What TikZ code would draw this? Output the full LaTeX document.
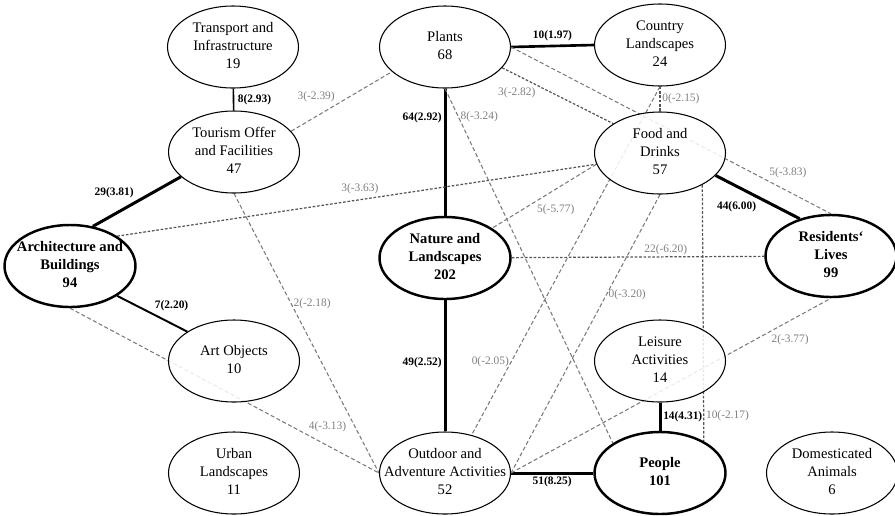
\documentclass[tikz,border=0pt]{standalone}
\usepackage{fontspec}
\setmainfont{Liberation Serif}
\usetikzlibrary{shapes.geometric,backgrounds}
\definecolor{edgegray}{HTML}{7A7A7A}
\definecolor{densegray}{HTML}{555555}
\definecolor{labgray}{HTML}{808080}
\newcommand{\fsz}{\fontsize{8.3}{10}\selectfont}
\newcommand{\lsz}{\fontsize{6.5}{7.5}\selectfont}
\newcommand{\ectr}[1]{\makebox[0pt]{\begin{tabular}{@{}c@{}}#1\end{tabular}}}

\begin{document}
\begin{tikzpicture}[
  cat/.style={draw, ellipse, minimum width=2.62cm, minimum height=1.64cm, inner sep=0pt,
              fill=white, fill opacity=0.85, text opacity=1, font=\fsz, line width=0.6pt},
  bigcat/.style={cat, line width=1.4pt, font=\fsz\bfseries},
  link/.style={line width=1.7pt},
  neg/.style={draw=edgegray, line width=0.6pt, dash pattern=on 2.3pt off 1.4pt},
  negd/.style={draw=densegray, line width=0.7pt, dash pattern=on 1.5pt off 1pt},
  lab/.style={font=\lsz\bfseries, inner sep=1pt},
  glab/.style={font=\lsz, text=labgray, inner sep=1pt}
]
\useasboundingbox (0,0) rectangle (17.9,-10.3);
\node[cat] (trans) at (4.66,-0.94) {\ectr{Transport and\\Infrastructure\\19}};
\node[cat] (tour) at (4.68,-3.04) {\ectr{Tourism Offer\\and Facilities\\47}};
\node[bigcat] (arch) at (1.40,-5.32) {\ectr{Architecture and\\Buildings\\94}};
\node[cat] (art) at (4.68,-7.22) {\ectr{Art Objects\\10}};
\node[cat] (urban) at (4.68,-9.46) {\ectr{Urban\\Landscapes\\11}};
\node[cat] (plants) at (8.90,-0.94) {\ectr{Plants\\68}};
\node[bigcat] (nature) at (8.90,-5.16) {\ectr{Nature and\\Landscapes\\202}};
\node[cat] (outdoor) at (8.90,-9.46) {\ectr{Outdoor and\\Adventure Activities\\52}};
\node[cat] (country) at (13.20,-0.90) {\ectr{Country\\Landscapes\\24}};
\node[cat] (food) at (13.20,-3.06) {\ectr{Food and\\Drinks\\57}};
\node[cat] (leisure) at (13.20,-7.22) {\ectr{Leisure\\Activities\\14}};
\node[bigcat] (people) at (13.20,-9.46) {\ectr{People\\101}};
\node[bigcat] (res) at (16.62,-5.12) {\ectr{Residents‘\\Lives\\99}};
\node[cat] (dom) at (16.64,-9.46) {\ectr{Domesticated\\Animals\\6}};

\begin{scope}[on background layer]
% strong links
\draw[line width=0.9pt] (trans) -- node[lab, right=1pt]{8(2.93)} (tour);
\draw[link] (tour.205) -- node[lab, pos=0.5, above left]{29(3.81)} (arch.60);
\draw[line width=1.1pt] (arch.south east) -- node[lab, pos=0.5, above right]{7(2.20)} (art.north west);
\draw[line width=1.5pt] (plants.east) -- node[lab, above=1pt]{10(1.97)} (country.west);
\draw[link] (plants) -- node[lab, pos=0.23, left]{64(2.92)} (nature);
\draw[link] (nature) -- node[lab, pos=0.48, left]{49(2.52)} (outdoor);
\draw[link] (food.-22) -- node[lab, pos=0.52, below left]{44(6.00)} (res.130);
\draw[link] (leisure) -- node[lab, right]{14(4.31)} (people);
\draw[link] (outdoor.east) -- node[lab, below]{51(8.25)} (people.west);
% weak links
\draw[neg] (tour.20) -- node[glab, pos=0.455, above left]{3(-2.39)} (plants.205);
\draw[negd] (arch.north east) -- node[glab, pos=0.55, above left]{3(-3.63)} (food.190);
\draw[neg] (tour.south) -- node[glab, pos=0.395, right]{2(-2.18)} (outdoor.west);
\draw[neg] (arch.south) -- node[glab, pos=0.766, above right]{4(-3.13)} (outdoor.west);
\draw[negd] (plants.-20) -- node[glab, pos=0.32, below left]{3(-2.82)} (food.north west);
\draw[neg] (plants.south) -- node[glab, pos=0.08, right]{8(-3.24)} (people.north west);
\draw[neg] (plants.east) -- node[glab, pos=0.8, above right]{5(-3.83)} (res.north);
\draw[negd] (country) -- node[glab, right]{0(-2.15)} (food);
\draw[neg] (country.south) -- node[glab, pos=0.79, left]{0(-2.05)} (outdoor.55);
\draw[neg] (food.south) -- node[glab, pos=0.36, right]{0(-3.20)} (outdoor.east);
\draw[negd] (food.-37) -- node[glab, pos=0.9, right]{10(-2.17)} (people.36);
\draw[neg] (food.190) -- node[glab, pos=0.59, below right]{5(-5.77)} (nature.north east);
\draw[negd] (nature) -- node[glab, pos=0.61, above]{22(-6.20)} (res);
\draw[neg] (outdoor.east) -- node[glab, pos=0.807, below right]{2(-3.77)} (res.south);
\end{scope}
\end{tikzpicture}
\end{document}
